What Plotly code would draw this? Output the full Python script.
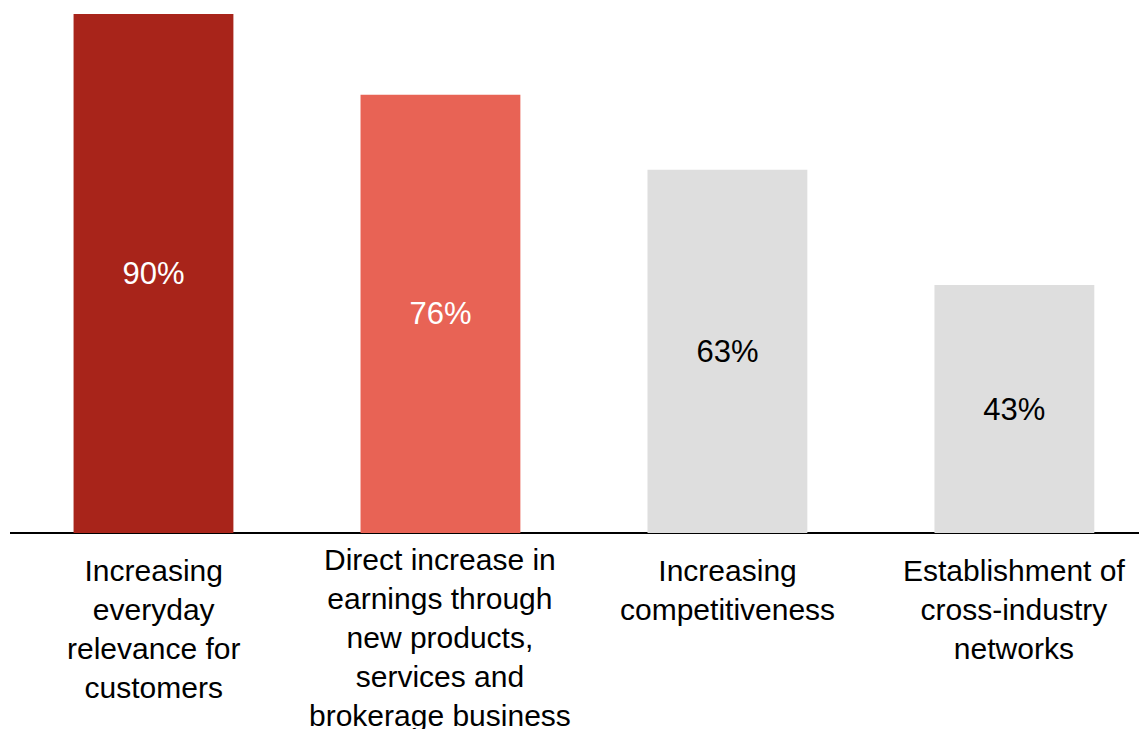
import plotly.graph_objects as go

categories = [
    "Increasing<br>everyday<br>relevance for<br>customers",
    "Direct increase in<br>earnings through<br>new products,<br>services and<br>brokerage business",
    "Increasing<br>competitiveness",
    "Establishment of<br>cross-industry<br>networks",
]
values = [90, 76, 63, 43]
labels = ["90%", "76%", "63%", "43%"]
colors = ["#A8241A", "#E86355", "#DEDEDE", "#DEDEDE"]
text_colors = ["#FFFFFF", "#FFFFFF", "#000000", "#000000"]
label_shift = [-19, -8, -19, -19]

fig = go.Figure(go.Bar(
    x=categories,
    y=values,
    text=labels,
    textposition="inside",
    insidetextanchor="middle",
    textfont=dict(size=31, color=text_colors, family="Liberation Sans, Arial"),
    marker=dict(color=colors, line=dict(width=0)),
    hoverinfo="skip",
))

for cat, shift in zip(categories, label_shift):
    fig.add_annotation(
        x=cat, xref="x",
        y=0, yref="paper",
        yanchor="top", xanchor="center",
        yshift=shift,
        text=cat,
        showarrow=False,
        align="center",
        font=dict(size=30, color="#000000", family="Liberation Sans, Arial"),
    )

fig.update_layout(
    width=1147,
    height=729,
    margin=dict(l=2, r=0, t=0, b=204, autoexpand=False),
    paper_bgcolor="white",
    plot_bgcolor="white",
    bargap=0.443,
    showlegend=False,
    font=dict(family="Liberation Sans, Arial", size=30, color="#000000"),
)
fig.update_xaxes(
    range=[-0.5, 3.49],
    automargin=False,
    showgrid=False,
    showline=False,
    ticks="",
    showticklabels=False,
    zeroline=False,
)
fig.update_yaxes(
    range=[0, 91.04],
    automargin=False,
    showgrid=False,
    showticklabels=False,
    zeroline=True,
    zerolinecolor="#000000",
    zerolinewidth=2,
    showline=False,
)

fig.write_html("out.html")
